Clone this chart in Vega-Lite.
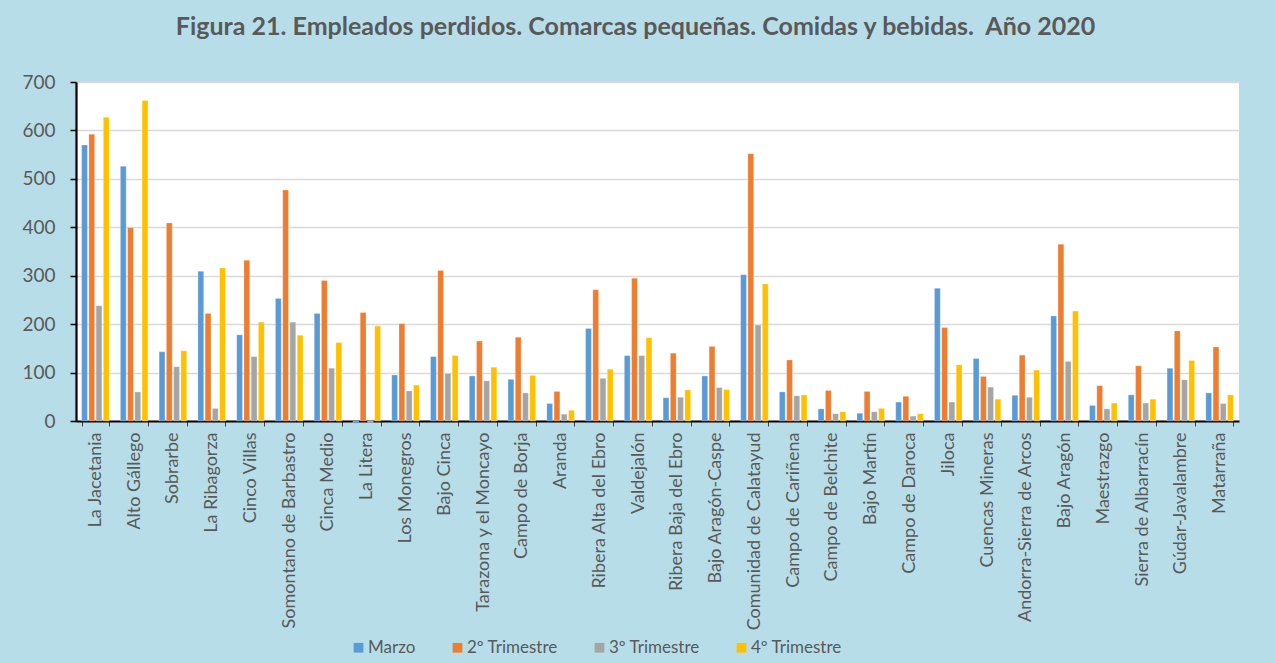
{
  "$schema": "https://vega.github.io/schema/vega-lite/v6.json",
  "autosize": "none",
  "width": 1163,
  "height": 339,
  "padding": {"left": 76, "top": 82, "right": 36, "bottom": 242},
  "background": "#B7DEE8",
  "title": {
    "text": "Figura 21. Empleados perdidos. Comarcas pequeñas. Comidas y bebidas.\u00a0 Año 2020",
    "font": "Lato",
    "fontSize": 25,
    "fontWeight": "bold",
    "color": "#595959",
    "anchor": "middle",
    "frame": "group",
    "dx": -22,
    "offset": 33
  },
  "data": {
    "values": [
      {"c": "La Jacetania", "s": "Marzo", "v": 570}, {"c": "La Jacetania", "s": "2º Trimestre", "v": 592}, {"c": "La Jacetania", "s": "3º Trimestre", "v": 238}, {"c": "La Jacetania", "s": "4º Trimestre", "v": 627},
      {"c": "Alto Gállego", "s": "Marzo", "v": 526}, {"c": "Alto Gállego", "s": "2º Trimestre", "v": 399}, {"c": "Alto Gállego", "s": "3º Trimestre", "v": 60}, {"c": "Alto Gállego", "s": "4º Trimestre", "v": 662},
      {"c": "Sobrarbe", "s": "Marzo", "v": 143}, {"c": "Sobrarbe", "s": "2º Trimestre", "v": 409}, {"c": "Sobrarbe", "s": "3º Trimestre", "v": 112}, {"c": "Sobrarbe", "s": "4º Trimestre", "v": 145},
      {"c": "La Ribagorza", "s": "Marzo", "v": 309}, {"c": "La Ribagorza", "s": "2º Trimestre", "v": 222}, {"c": "La Ribagorza", "s": "3º Trimestre", "v": 26}, {"c": "La Ribagorza", "s": "4º Trimestre", "v": 316},
      {"c": "Cinco Villas", "s": "Marzo", "v": 178}, {"c": "Cinco Villas", "s": "2º Trimestre", "v": 332}, {"c": "Cinco Villas", "s": "3º Trimestre", "v": 133}, {"c": "Cinco Villas", "s": "4º Trimestre", "v": 204},
      {"c": "Somontano de Barbastro", "s": "Marzo", "v": 253}, {"c": "Somontano de Barbastro", "s": "2º Trimestre", "v": 477}, {"c": "Somontano de Barbastro", "s": "3º Trimestre", "v": 204}, {"c": "Somontano de Barbastro", "s": "4º Trimestre", "v": 177},
      {"c": "Cinca Medio", "s": "Marzo", "v": 222}, {"c": "Cinca Medio", "s": "2º Trimestre", "v": 290}, {"c": "Cinca Medio", "s": "3º Trimestre", "v": 109}, {"c": "Cinca Medio", "s": "4º Trimestre", "v": 162},
      {"c": "La Litera", "s": "Marzo", "v": -5}, {"c": "La Litera", "s": "2º Trimestre", "v": 224}, {"c": "La Litera", "s": "3º Trimestre", "v": -3}, {"c": "La Litera", "s": "4º Trimestre", "v": 196},
      {"c": "Los Monegros", "s": "Marzo", "v": 95}, {"c": "Los Monegros", "s": "2º Trimestre", "v": 201}, {"c": "Los Monegros", "s": "3º Trimestre", "v": 62}, {"c": "Los Monegros", "s": "4º Trimestre", "v": 74},
      {"c": "Bajo Cinca", "s": "Marzo", "v": 133}, {"c": "Bajo Cinca", "s": "2º Trimestre", "v": 311}, {"c": "Bajo Cinca", "s": "3º Trimestre", "v": 98}, {"c": "Bajo Cinca", "s": "4º Trimestre", "v": 135},
      {"c": "Tarazona y el Moncayo", "s": "Marzo", "v": 93}, {"c": "Tarazona y el Moncayo", "s": "2º Trimestre", "v": 165}, {"c": "Tarazona y el Moncayo", "s": "3º Trimestre", "v": 83}, {"c": "Tarazona y el Moncayo", "s": "4º Trimestre", "v": 111},
      {"c": "Campo de Borja", "s": "Marzo", "v": 86}, {"c": "Campo de Borja", "s": "2º Trimestre", "v": 173}, {"c": "Campo de Borja", "s": "3º Trimestre", "v": 58}, {"c": "Campo de Borja", "s": "4º Trimestre", "v": 94},
      {"c": "Aranda", "s": "Marzo", "v": 36}, {"c": "Aranda", "s": "2º Trimestre", "v": 61}, {"c": "Aranda", "s": "3º Trimestre", "v": 14}, {"c": "Aranda", "s": "4º Trimestre", "v": 22},
      {"c": "Ribera Alta del Ebro", "s": "Marzo", "v": 191}, {"c": "Ribera Alta del Ebro", "s": "2º Trimestre", "v": 271}, {"c": "Ribera Alta del Ebro", "s": "3º Trimestre", "v": 88}, {"c": "Ribera Alta del Ebro", "s": "4º Trimestre", "v": 107},
      {"c": "Valdejalón", "s": "Marzo", "v": 135}, {"c": "Valdejalón", "s": "2º Trimestre", "v": 295}, {"c": "Valdejalón", "s": "3º Trimestre", "v": 135}, {"c": "Valdejalón", "s": "4º Trimestre", "v": 172},
      {"c": "Ribera Baja del Ebro", "s": "Marzo", "v": 48}, {"c": "Ribera Baja del Ebro", "s": "2º Trimestre", "v": 140}, {"c": "Ribera Baja del Ebro", "s": "3º Trimestre", "v": 49}, {"c": "Ribera Baja del Ebro", "s": "4º Trimestre", "v": 64},
      {"c": "Bajo Aragón-Caspe", "s": "Marzo", "v": 93}, {"c": "Bajo Aragón-Caspe", "s": "2º Trimestre", "v": 154}, {"c": "Bajo Aragón-Caspe", "s": "3º Trimestre", "v": 69}, {"c": "Bajo Aragón-Caspe", "s": "4º Trimestre", "v": 65},
      {"c": "Comunidad de Calatayud", "s": "Marzo", "v": 302}, {"c": "Comunidad de Calatayud", "s": "2º Trimestre", "v": 552}, {"c": "Comunidad de Calatayud", "s": "3º Trimestre", "v": 198}, {"c": "Comunidad de Calatayud", "s": "4º Trimestre", "v": 283},
      {"c": "Campo de Cariñena", "s": "Marzo", "v": 60}, {"c": "Campo de Cariñena", "s": "2º Trimestre", "v": 126}, {"c": "Campo de Cariñena", "s": "3º Trimestre", "v": 52}, {"c": "Campo de Cariñena", "s": "4º Trimestre", "v": 54},
      {"c": "Campo de Belchite", "s": "Marzo", "v": 25}, {"c": "Campo de Belchite", "s": "2º Trimestre", "v": 63}, {"c": "Campo de Belchite", "s": "3º Trimestre", "v": 15}, {"c": "Campo de Belchite", "s": "4º Trimestre", "v": 19},
      {"c": "Bajo Martín", "s": "Marzo", "v": 16}, {"c": "Bajo Martín", "s": "2º Trimestre", "v": 61}, {"c": "Bajo Martín", "s": "3º Trimestre", "v": 19}, {"c": "Bajo Martín", "s": "4º Trimestre", "v": 26},
      {"c": "Campo de Daroca", "s": "Marzo", "v": 39}, {"c": "Campo de Daroca", "s": "2º Trimestre", "v": 51}, {"c": "Campo de Daroca", "s": "3º Trimestre", "v": 10}, {"c": "Campo de Daroca", "s": "4º Trimestre", "v": 15},
      {"c": "Jiloca", "s": "Marzo", "v": 274}, {"c": "Jiloca", "s": "2º Trimestre", "v": 193}, {"c": "Jiloca", "s": "3º Trimestre", "v": 39}, {"c": "Jiloca", "s": "4º Trimestre", "v": 116},
      {"c": "Cuencas Mineras", "s": "Marzo", "v": 129}, {"c": "Cuencas Mineras", "s": "2º Trimestre", "v": 92}, {"c": "Cuencas Mineras", "s": "3º Trimestre", "v": 70}, {"c": "Cuencas Mineras", "s": "4º Trimestre", "v": 45},
      {"c": "Andorra-Sierra de Arcos", "s": "Marzo", "v": 53}, {"c": "Andorra-Sierra de Arcos", "s": "2º Trimestre", "v": 136}, {"c": "Andorra-Sierra de Arcos", "s": "3º Trimestre", "v": 49}, {"c": "Andorra-Sierra de Arcos", "s": "4º Trimestre", "v": 105},
      {"c": "Bajo Aragón", "s": "Marzo", "v": 217}, {"c": "Bajo Aragón", "s": "2º Trimestre", "v": 365}, {"c": "Bajo Aragón", "s": "3º Trimestre", "v": 123}, {"c": "Bajo Aragón", "s": "4º Trimestre", "v": 227},
      {"c": "Maestrazgo", "s": "Marzo", "v": 32}, {"c": "Maestrazgo", "s": "2º Trimestre", "v": 73}, {"c": "Maestrazgo", "s": "3º Trimestre", "v": 25}, {"c": "Maestrazgo", "s": "4º Trimestre", "v": 37},
      {"c": "Sierra de Albarracín", "s": "Marzo", "v": 54}, {"c": "Sierra de Albarracín", "s": "2º Trimestre", "v": 114}, {"c": "Sierra de Albarracín", "s": "3º Trimestre", "v": 37}, {"c": "Sierra de Albarracín", "s": "4º Trimestre", "v": 45},
      {"c": "Gúdar-Javalambre", "s": "Marzo", "v": 109}, {"c": "Gúdar-Javalambre", "s": "2º Trimestre", "v": 186}, {"c": "Gúdar-Javalambre", "s": "3º Trimestre", "v": 85}, {"c": "Gúdar-Javalambre", "s": "4º Trimestre", "v": 125},
      {"c": "Matarraña", "s": "Marzo", "v": 58}, {"c": "Matarraña", "s": "2º Trimestre", "v": 153}, {"c": "Matarraña", "s": "3º Trimestre", "v": 36}, {"c": "Matarraña", "s": "4º Trimestre", "v": 54}
    ]
  },
  "mark": {"type": "bar", "stroke": "#ffffff", "strokeWidth": 0.4, "strokeOpacity": 0.6},
  "encoding": {
    "x": {
      "field": "c",
      "type": "nominal",
      "sort": null,
      "title": null,
      "scale": {"paddingInner": 0.29, "paddingOuter": 0.145},
      "axis": {
        "labelAngle": -90,
        "labelFont": "Lato",
        "labelFontSize": 18,
        "labelColor": "#595959",
        "labelPadding": 6,
        "labelLimit": 400,
        "tickBand": "extent",
        "tickSize": 5,
        "tickColor": "#404040",
        "tickWidth": 1,
        "domainColor": "#000000",
        "domainWidth": 1.8,
        "grid": false
      }
    },
    "xOffset": {
      "field": "s",
      "type": "nominal",
      "sort": ["Marzo", "2º Trimestre", "3º Trimestre", "4º Trimestre"],
      "scale": {"paddingInner": 0.2, "paddingOuter": 0}
    },
    "y": {
      "field": "v",
      "type": "quantitative",
      "title": null,
      "scale": {"domain": [0, 700], "nice": false, "zero": true},
      "axis": {
        "values": [0, 100, 200, 300, 400, 500, 600, 700],
        "labelFont": "Lato",
        "labelFontSize": 19,
        "labelColor": "#595959",
        "labelPadding": 15,
        "tickSize": 6,
        "tickColor": "#000000",
        "tickWidth": 1.5,
        "domainColor": "#000000",
        "domainWidth": 2.2,
        "gridColor": "#D9D9D9",
        "gridWidth": 1.6
      }
    },
    "color": {
      "field": "s",
      "type": "nominal",
      "sort": ["Marzo", "2º Trimestre", "3º Trimestre", "4º Trimestre"],
      "scale": {
        "domain": ["Marzo", "2º Trimestre", "3º Trimestre", "4º Trimestre"],
        "range": ["#5B9BD5", "#ED7D31", "#A5A5A5", "#FFC000"]
      },
      "legend": {
        "title": null,
        "orient": "none",
        "direction": "horizontal",
        "legendX": 274,
        "legendY": 557,
        "symbolType": "square",
        "symbolSize": 95,
        "symbolStrokeWidth": 0,
        "labelFont": "Lato",
        "labelFontSize": 17,
        "labelColor": "#595959",
        "labelOffset": 1,
        "columnPadding": 33
      }
    }
  },
  "config": {
    "view": {"fill": "#ffffff", "stroke": null}
  }
}
